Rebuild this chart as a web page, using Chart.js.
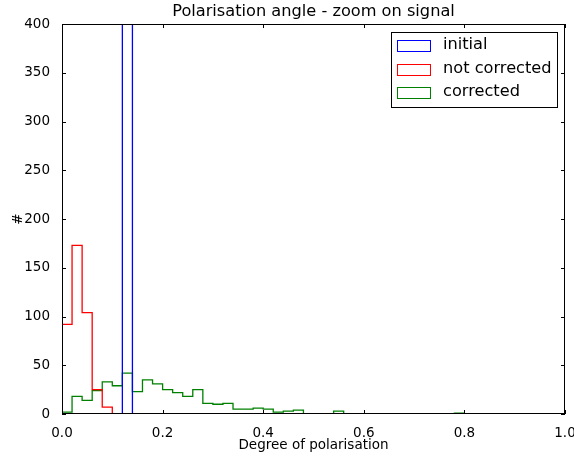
<!DOCTYPE html>
<html>
<head>
<meta charset="utf-8">
<script src="https://cdn.jsdelivr.net/npm/chart.js@4/dist/chart.umd.min.js"></script>
<style>
  body { margin: 0; background: #fff; }
  #boite { width: 574px; height: 458px; }
</style>
</head>
<body>
<div id="boite"><canvas id="graphique" width="574" height="458"></canvas></div>
<script>
/* Bin edges of the histograms (50 bins of 0.02) */
const binEdges = [0.00, 0.02, 0.04, 0.06, 0.08, 0.10, 0.12, 0.14, 0.16, 0.18,
  0.20, 0.22, 0.24, 0.26, 0.28, 0.30, 0.32, 0.34, 0.36, 0.38,
  0.40, 0.42, 0.44, 0.46, 0.48, 0.50, 0.52, 0.54, 0.56, 0.58,
  0.60, 0.62, 0.64, 0.66, 0.68, 0.70, 0.72, 0.74, 0.76, 0.78,
  0.80, 0.82, 0.84, 0.86, 0.88, 0.90, 0.92, 0.94, 0.96, 0.98, 1.00];

/* Counts per bin */
const initial = [0, 0, 0, 0, 0, 0, 1000, 0, 0, 0,
  0, 0, 0, 0, 0, 0, 0, 0, 0, 0,
  0, 0, 0, 0, 0, 0, 0, 0, 0, 0,
  0, 0, 0, 0, 0, 0, 0, 0, 0, 0,
  0, 0, 0, 0, 0, 0, 0, 0, 0, 0];
const notCorrected = [92, 173, 104, 25, 7, 0, 0, 0, 0, 0,
  0, 0, 0, 0, 0, 0, 0, 0, 0, 0,
  0, 0, 0, 0, 0, 0, 0, 0, 0, 0,
  0, 0, 0, 0, 0, 0, 0, 0, 0, 0,
  0, 0, 0, 0, 0, 0, 0, 0, 0, 0];
const corrected = [2, 18, 14, 24, 33, 29, 42, 23, 35, 31,
  25, 22, 18, 25, 11, 10, 11, 5, 5, 6,
  5, 2, 3, 4, 0, 0, 0, 3, 0, 0,
  0, 0, 0, 0, 0, 0, 0, 0, 0, 1,
  0, 0, 0, 0, 0, 0, 0, 0, 0, 0];

const seriesLabels = ['initial', 'not corrected', 'corrected'];
const xTicks = [0, 0.2, 0.4, 0.6, 0.8, 1.0];
const yTicks = [0, 50, 100, 150, 200, 250, 300, 350, 400];

const police = 'DejaVu Sans, sans-serif';

/* Outline of a step histogram, like histtype='step' */
const contour = function(counts) {
  const pts = [{ x: binEdges[0], y: 0 }];
  counts.forEach((c, i) => pts.push({ x: binEdges[i], y: c }));
  const fin = binEdges[binEdges.length - 1];
  pts.push({ x: fin, y: counts[counts.length - 1] });
  pts.push({ x: fin, y: 0 });
  return pts;
};

const serie = (label, counts, couleur) => ({
  label, data: contour(counts), borderColor: couleur, borderWidth: 1.3,
  backgroundColor: 'transparent', stepped: true, pointRadius: 0, fill: false
});

/* Ticks inside on four sides, frame, texts and legend */
const decor = {
  id: 'decor',
  afterDraw(chart) {
    const { ctx, chartArea: a, scales } = chart;
    ctx.save();
    ctx.strokeStyle = '#000';
    ctx.lineWidth = 1;
    ctx.beginPath();
    xTicks.forEach(v => {
      const px = Math.round(scales.x.getPixelForValue(v)) + 0.5;
      ctx.moveTo(px, a.bottom); ctx.lineTo(px, a.bottom - 4);
      ctx.moveTo(px, a.top); ctx.lineTo(px, a.top + 4);
    });
    yTicks.forEach(v => {
      const py = Math.round(scales.y.getPixelForValue(v)) + 0.5;
      ctx.moveTo(a.left, py); ctx.lineTo(a.left + 4, py);
      ctx.moveTo(a.right, py); ctx.lineTo(a.right - 4, py);
    });
    ctx.stroke();
    ctx.strokeRect(a.left + 0.5, a.top + 0.5, a.right - a.left - 1, a.bottom - a.top - 1);

    ctx.fillStyle = '#000';
    ctx.textAlign = 'center';
    ctx.textBaseline = 'middle';
    ctx.font = `16.2px ${police}`;
    ctx.fillText('Polarisation angle - zoom on signal', (a.left + a.right) / 2, 12);
    ctx.font = `13.5px ${police}`;
    ctx.fillText('Degree of polarisation', (a.left + a.right) / 2, 445);
    ctx.save();
    ctx.translate(18, (a.top + a.bottom) / 2);
    ctx.rotate(-Math.PI / 2);
    ctx.fillText('#', 0, 0);
    ctx.restore();

    /* Legend */
    ctx.fillStyle = '#fff';
    ctx.fillRect(391, 32, 166, 75);
    ctx.strokeStyle = '#000';
    ctx.strokeRect(391.5, 32.5, 166, 75);
    ctx.font = `16.2px ${police}`;
    ctx.textAlign = 'left';
    chart.data.datasets.forEach((ds, i) => {
      const yc = 45 + i * 23.5;
      ctx.strokeStyle = ds.borderColor;
      ctx.strokeRect(397.5, Math.round(yc - 5) + 0.5, 33, 11);
      ctx.fillStyle = '#000';
      ctx.fillText(ds.label, 443, yc);
    });
    ctx.restore();
  }
};

const ctx = document.getElementById('graphique').getContext('2d');
new Chart(ctx, {
  type: 'line',
  data: {
    datasets: [
      serie(seriesLabels[0], initial, '#0000ff'),
      serie(seriesLabels[1], notCorrected, '#ff0000'),
      serie(seriesLabels[2], corrected, '#008000')
    ]
  },
  options: {
    responsive: false,
    animation: false,
    devicePixelRatio: 1,
    layout: { padding: { left: 0, right: 9, top: 24, bottom: 0 } },
    plugins: { legend: { display: false }, title: { display: false }, tooltip: { enabled: false } },
    scales: {
      x: {
        type: 'linear', min: 0, max: 1,
        grid: { display: false }, border: { display: false },
        afterFit: (s) => { s.height = 44; s.paddingLeft = 0; s.paddingRight = 0; },
        afterBuildTicks: (s) => { s.ticks = xTicks.map(v => ({ value: v })); },
        ticks: { padding: 3, color: '#000', font: { family: police, size: 13.5 },
          maxRotation: 0, autoSkip: false, callback: (v) => Number(v).toFixed(1) }
      },
      y: {
        type: 'linear', min: 0, max: 400,
        grid: { display: false }, border: { display: false },
        afterFit: (s) => { s.width = 62; s.paddingTop = 0; s.paddingBottom = 0; },
        afterBuildTicks: (s) => { s.ticks = yTicks.map(v => ({ value: v })); },
        ticks: { padding: 4, color: '#000', font: { family: police, size: 13.5 } }
      }
    }
  },
  plugins: [decor]
});
</script>
</body>
</html>
